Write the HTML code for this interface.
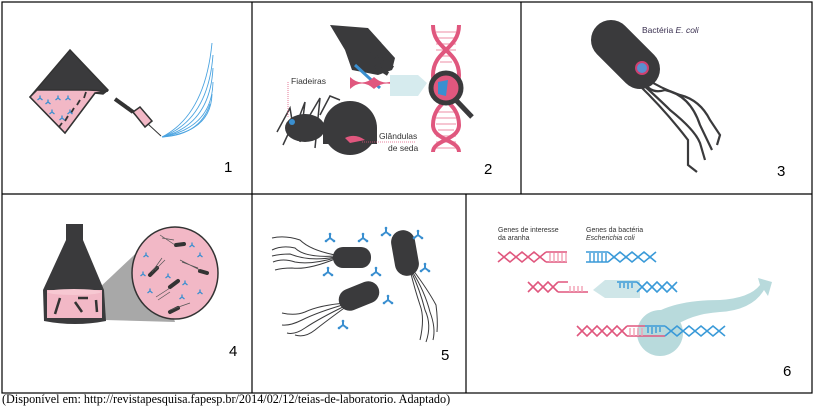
<!DOCTYPE html>
<html><head><meta charset="utf-8"><style>
html,body{margin:0;padding:0;background:#fff;}
body{width:813px;height:409px;position:relative;overflow:hidden;font-family:"Liberation Sans",sans-serif;}
svg{position:absolute;left:0;top:0;}
.cap{position:absolute;left:2px;top:392px;font-family:"Liberation Serif",serif;font-size:12.2px;color:#000;}
</style></head><body>
<svg width="813" height="409" viewBox="0 0 813 409">
<defs>
<g id="ab"><path d="M0 0 L0 -4 M0 0 L-4 3 M0 0 L4 3" stroke="#3a8fd0" stroke-width="2" fill="none"/><circle cx="0" cy="-4" r="1.3" fill="#3a8fd0"/><circle cx="-4" cy="3" r="1.3" fill="#3a8fd0"/><circle cx="4" cy="3" r="1.3" fill="#3a8fd0"/></g>
<g id="sab"><path d="M0 0 L0 -2.5 M0 0 L-2.5 2 M0 0 L2.5 2" stroke="#3a8fd0" stroke-width="1.3" fill="none"/></g>
</defs>
<!-- borders -->
<g stroke="#000" stroke-width="1.2" fill="none">
<rect x="2" y="2" width="810" height="391"/>
<line x1="2" y1="194" x2="812" y2="194"/>
<line x1="252" y1="2" x2="252" y2="393"/>
<line x1="521" y1="2" x2="521" y2="194"/>
<line x1="466" y1="194" x2="466" y2="393"/>
</g>
<!-- Panel 1 -->
<polygon points="30,97 70,50 108,90 103,94 95,93 65,133 30,97" fill="#3a3a3c" stroke="#333" stroke-width="1.5"/>
<polygon points="30,97 37,90 88,90 108,91 95,93 65,133" fill="#f2b8c6" stroke="#333" stroke-width="1.5"/>
<g stroke="#333" stroke-width="1.8"><line x1="86" y1="92" x2="84" y2="98"/><line x1="80" y1="100" x2="77" y2="105"/><line x1="74" y1="108" x2="71" y2="113"/><line x1="68" y1="116" x2="65" y2="121"/><line x1="62" y1="123" x2="59" y2="127"/></g>
<use href="#sab" x="40" y="98"/><use href="#sab" x="48" y="102"/><use href="#sab" x="58" y="98"/><use href="#sab" x="68" y="98"/><use href="#sab" x="52" y="112"/><use href="#sab" x="62" y="118"/><use href="#sab" x="70" y="112"/>
<g stroke="#333"><line x1="115" y1="99" x2="133" y2="112" stroke-width="4"/><line x1="128" y1="107" x2="140" y2="119" stroke-width="2"/></g>
<polygon points="133,112 140,107 152,121 145,127" fill="#f2b8c6" stroke="#333" stroke-width="1.5"/>
<line x1="148" y1="124" x2="161" y2="136" stroke="#333" stroke-width="1"/>
<g stroke="#4aa3e0" stroke-width="0.9" fill="none">
<path d="M162 137 Q205 115 212 43"/><path d="M162 137 Q208 120 213 55"/><path d="M162 137 Q210 125 213 68"/><path d="M162 137 Q212 128 213 82"/><path d="M162 137 Q211 132 212 94"/><path d="M162 137 Q200 135 210 104"/>
</g>
<text x="224" y="172" font-size="15">1</text>
<!-- Panel 2 -->
<path d="M330 25 L368 28 L395 58 L392 70 L378 75 L352 70 L345 50 Z" fill="#3a3a3c"/>
<g stroke="#3a3a3c" stroke-width="4"><line x1="370" y1="50" x2="393" y2="60"/><line x1="375" y1="58" x2="393" y2="68"/><line x1="375" y1="66" x2="388" y2="74"/></g>
<line x1="355" y1="65" x2="380" y2="88" stroke="#3a8fd0" stroke-width="3"/>
<path d="M350 77 Q362 88 374 77 Q386 88 398 77 L402 77 L402 89 Q386 78 374 89 Q362 78 350 89 Z" fill="#e0577e"/>
<polygon points="390,75 418,75 427,83 418,96 390,96" fill="#d6ebee"/>
<g stroke="#f4b4c4" stroke-width="1.5">
<path d="M436 32h20M436 38h20M436 44h20M436 50h20M438 56h16M440 62h12M436 112h20M436 118h20M436 124h20M438 130h16M436 136h20M436 142h20M436 148h20"/>
</g>
<g stroke="#e0577e" stroke-width="4" fill="none">
<path d="M433 25 C433 50 459 50 459 75 C459 100 433 100 433 125 C433 140 459 140 459 152"/>
<path d="M459 25 C459 50 433 50 433 75 C433 100 459 100 459 125 C459 140 433 140 433 152"/>
</g>
<line x1="453" y1="97" x2="472" y2="117" stroke="#3a3a3c" stroke-width="5"/>
<circle cx="446" cy="88" r="15" fill="#e0577e" stroke="#3a3a3c" stroke-width="5"/>
<path d="M438 82 L448 80 L446 96 L438 94Z" fill="#3a8fd0"/>
<ellipse cx="350" cy="128" rx="27" ry="27" fill="#3a3a3c"/>
<rect x="323" y="128" width="54" height="16" fill="#3a3a3c"/>
<ellipse cx="305" cy="128" rx="20" ry="14" fill="#3a3a3c"/>
<g stroke="#3a3a3c" stroke-width="1.5" fill="none"><path d="M292 120 L290 108 L277 132"/><path d="M300 115 L305 102 L300 142"/><path d="M310 115 L320 98 L315 148"/><path d="M320 115 L330 96 L340 100"/><path d="M290 130 L283 145"/></g>
<circle cx="292" cy="122" r="3" fill="#3a8fd0"/>
<path d="M345 138 Q355 133 365 140 L350 143Z" fill="#e0577e"/>
<g stroke="#e0577e" stroke-width="0.8" stroke-dasharray="1,1" fill="none"><path d="M288 82 L288 118"/><path d="M362 142 L415 142"/></g>
<text x="291" y="84" font-size="8.5" fill="#333">Fiadeiras</text>
<text x="379" y="139" font-size="8.5" fill="#333">Glândulas</text>
<text x="388" y="151" font-size="8.5" fill="#333">de seda</text>
<text x="484" y="174" font-size="15">2</text>
<!-- Panel 3 -->
<g stroke="#3a3a3c" stroke-width="2.2" fill="none">
<path d="M645 78 Q660 88 680 95 Q700 100 710 120 L720 135 L717 145"/>
<path d="M643 80 Q650 95 665 90 Q690 95 700 125 L712 150"/>
<path d="M640 82 Q660 100 670 110 Q695 130 700 143 L705 160"/>
<path d="M638 84 Q665 110 688 140 L688 165 L697 172"/>
</g>
<line x1="611" y1="40" x2="640" y2="69" stroke="#3a3a3c" stroke-width="40" stroke-linecap="round"/>
<circle cx="642" cy="68" r="6" fill="#5a8fd0" stroke="#d04070" stroke-width="2"/>
<text x="642" y="33" font-size="8.5" fill="#3a3050">Bactéria <tspan font-style="italic">E. coli</tspan></text>
<text x="777" y="176" font-size="15">3</text>
<!-- Panel 4 -->
<polygon points="97,290 105,320 175,322 150,240" fill="#a8a8a8"/>
<rect x="66" y="224" width="17" height="24" fill="#3a3a3c"/>
<path d="M66 240 L83 240 L104 290 L106 321 Q75 327 44 321 L43 290 Z" fill="#3a3a3c"/>
<rect x="47" y="290" width="55" height="28" fill="#f2b8c6"/>
<ellipse cx="74" cy="292" rx="27" ry="3" fill="#f7c8d2"/>
<g stroke="#333" stroke-width="2.5"><line x1="60" y1="298" x2="55" y2="314"/><line x1="75" y1="302" x2="82" y2="312"/><line x1="96" y1="300" x2="97" y2="312"/><line x1="78" y1="298" x2="88" y2="298"/></g>
<ellipse cx="175" cy="273" rx="43" ry="46" fill="#f2b8c6" stroke="#333" stroke-width="1.5"/>
<g stroke="#333" stroke-width="4" stroke-linecap="round"><line x1="176" y1="245" x2="184" y2="244"/><line x1="150" y1="275" x2="157" y2="268"/><line x1="200" y1="271" x2="207" y2="273"/><line x1="170" y1="287" x2="178" y2="281"/><line x1="170" y1="312" x2="178" y2="308"/></g>
<g stroke="#555" stroke-width="0.7" fill="none"><path d="M160 235 L175 245 M162 238 L174 240"/><path d="M162 258 L152 272 M165 260 L155 270"/><path d="M180 260 L200 270 M182 262 L198 268"/><path d="M156 297 L170 288 M158 300 L170 292"/><path d="M190 303 L170 310"/></g>
<use href="#sab" x="192" y="245"/><use href="#sab" x="146" y="255"/><use href="#sab" x="200" y="255"/><use href="#sab" x="143" y="274"/><use href="#sab" x="168" y="276"/><use href="#sab" x="185" y="283"/><use href="#sab" x="150" y="291"/><use href="#sab" x="200" y="292"/><use href="#sab" x="182" y="297"/>
<text x="229" y="356" font-size="15">4</text>
<!-- Panel 5 -->
<g stroke="#3a3a3c" stroke-width="1" fill="none">
<path d="M335 255 Q310 250 300 240 Q285 235 272 238"/><path d="M335 256 Q305 258 295 248 Q282 245 272 250"/><path d="M335 258 Q310 265 295 262 Q283 258 273 262"/><path d="M335 259 Q308 270 292 268 Q282 268 275 270"/><path d="M335 257 Q310 262 290 254 Q280 254 272 256"/>
<path d="M346 303 Q320 305 305 312 Q295 316 282 313"/><path d="M346 304 Q318 312 302 320 Q290 326 282 325"/><path d="M347 305 Q320 318 305 328 Q295 335 287 333"/><path d="M347 306 Q325 322 315 330 Q305 338 295 335"/>
<path d="M410 270 Q415 290 420 305 Q425 318 420 340"/><path d="M411 271 Q420 290 425 310 Q432 325 426 342"/><path d="M412 271 Q425 292 430 312 Q436 328 433 340"/><path d="M413 270 Q428 290 436 305 Q438 320 437 332"/>
</g>
<rect x="333" y="247" width="38" height="21" rx="10" fill="#3a3a3c"/>
<rect x="393" y="230" width="24" height="46" rx="12" fill="#3a3a3c" transform="rotate(-10 405 253)"/>
<rect x="338" y="285" width="42" height="22" rx="11" fill="#3a3a3c" transform="rotate(-22 359 296)"/>
<use href="#ab" x="330" y="238"/><use href="#ab" x="363" y="238"/><use href="#ab" x="386" y="232"/><use href="#ab" x="418" y="235"/><use href="#ab" x="328" y="272"/><use href="#ab" x="376" y="272"/><use href="#ab" x="425" y="268"/><use href="#ab" x="388" y="300"/><use href="#ab" x="343" y="325"/>
<text x="441" y="360" font-size="15">5</text>
<!-- Panel 6 -->
<text x="498" y="232" font-size="7" fill="#333">Genes de interesse</text>
<text x="498" y="240" font-size="7" fill="#333">da aranha</text>
<text x="586" y="232" font-size="7" fill="#333">Genes da bactéria</text>
<text x="586" y="240" font-size="7" fill="#333" font-style="italic">Escherichia coli</text>
<path d="M648 318 Q670 300 720 300 Q750 298 760 285 L758 278 L772 282 L768 296 L764 290 Q752 310 720 312 Q690 314 672 328 Z" fill="#b8dadc"/>
<circle cx="660" cy="333" r="23" fill="#b8dadc"/>
<polygon points="593,290 605,280 640,280 640,298 605,298" fill="#cfe6e8"/>
<g fill="none" stroke-width="1.6">
<path d="M498 252 L510 262 L522 252 L534 262 L546 252 M498 262 L510 252 L522 262 L534 252 L546 262" stroke="#e0577e"/>
<path d="M546 252 L567 252 M546 262 L567 262" stroke="#e0577e"/>
<path d="M586 252 L608 252 M586 262 L608 262 M608 252 L620 262 L632 252 L644 262 L656 252 M608 262 L620 252 L632 262 L644 252 L656 262" stroke="#3a9ad8"/>
<path d="M528 282 L538 292 L548 282 L558 292 M528 292 L538 282 L548 292 L558 282 M558 282 L568 282 M558 292 L588 292" stroke="#e0577e"/>
<path d="M617 282 L637 282 M637 282 L647 292 L657 282 L667 292 L677 282 M637 292 L647 282 L657 292 L667 282 L677 292" stroke="#3a9ad8"/>
<path d="M577 326 L587 336 L597 326 L607 336 L617 326 L627 336 M577 336 L587 326 L597 336 L607 326 L617 336 L627 326 M627 326 L645 326 M627 336 L665 336" stroke="#e0577e"/>
<path d="M645 326 L665 326 M665 326 L677 336 L689 326 L701 336 L713 326 L725 336 M665 336 L677 326 L689 336 L701 326 L713 336 L725 326" stroke="#3a9ad8"/>
</g>
<g stroke-width="1.4">
<g stroke="#f2a0b4"><path d="M550 253v9M554 253v9M558 253v9M562 253v9M566 253v9M570 286v6M574 286v6M578 286v6M582 286v6M630 328v8M634 328v8M638 328v8M642 328v8"/></g>
<g stroke="#3a9ad8"><path d="M590 253v9M594 253v9M598 253v9M602 253v9M606 253v9M620 283v5M624 283v5M628 283v6M632 283v5M648 327v6M652 327v7M656 327v6M660 327v5"/></g>
</g>
<text x="783" y="376" font-size="15">6</text>
</svg>
<div class="cap">(Disponível em: http://revistapesquisa.fapesp.br/2014/02/12/teias-de-laboratorio. Adaptado)</div>
</body></html>
